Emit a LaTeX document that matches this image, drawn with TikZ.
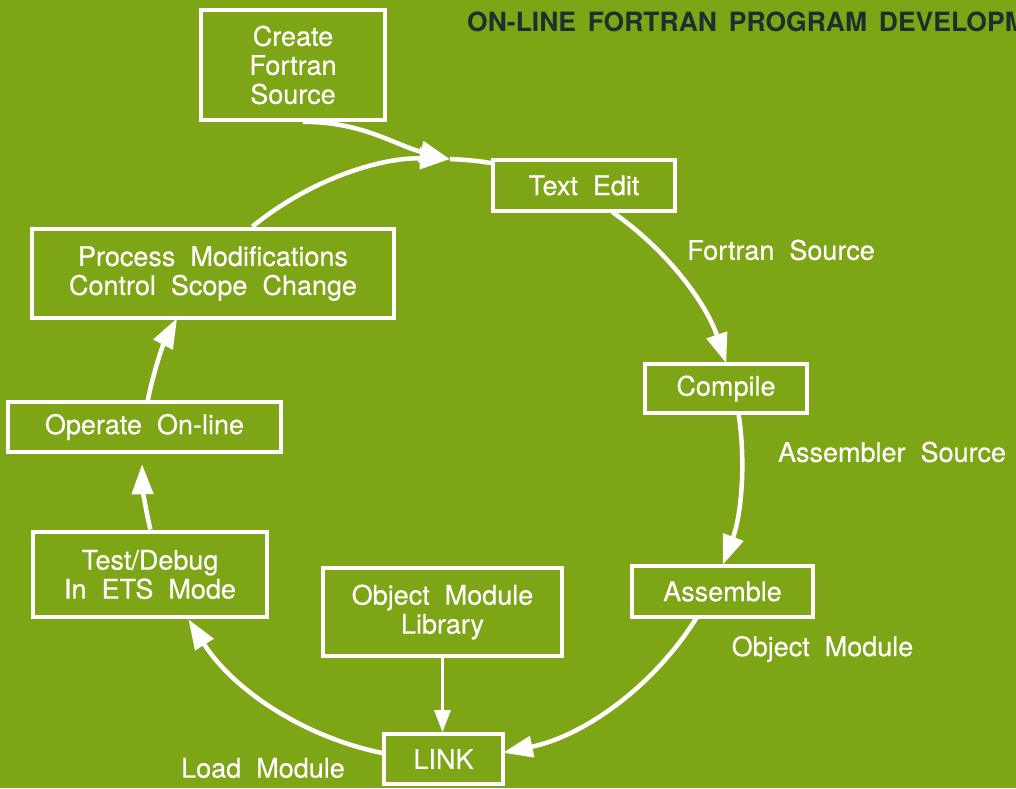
\documentclass[tikz,border=0pt]{standalone}
\usepackage{fontspec}
\setmainfont[WordSpace=2.0,FakeBold=0.4]{TeX Gyre Heros}
\newfontfamily\titlefont[WordSpace=1.6]{TeX Gyre Heros}
\usetikzlibrary{arrows.meta,calc}
\definecolor{bg}{RGB}{126,165,22}
\definecolor{ttl}{RGB}{30,48,46}
\begin{document}
\begin{tikzpicture}[x=1pt,y=1pt,
  box/.style={draw=white, line width=3.6pt, text=white, align=center,
    inner sep=0pt, font=\fontsize{27}{29}\selectfont},
  lbl/.style={text=white, inner sep=0pt, font=\fontsize{27}{29}\selectfont},
  flow/.style={draw=white, line width=4.5pt},
  arr/.style={flow, -{Triangle[length=30pt,width=21pt]}},
  thinarr/.style={draw=white, line width=3pt, -{Triangle[length=22pt,width=16pt]}}
]
\fill[bg] (0,0) rectangle (1016,788);
\useasboundingbox (0,0) rectangle (1016,788);

\node[anchor=base west, text=ttl, inner sep=0pt,
  font=\titlefont\bfseries\fontsize{26.5}{29}\selectfont] (title) at (467,756)
  {ON-LINE FORTRAN PROGRAM DEVELOPMENT};

% boxes
\node[box, minimum width=184pt, minimum height=110pt] (create) at (293,723) {Create\\Fortran\\Source};
\node[box, minimum width=182pt, minimum height=51pt] (te) at (584,602.5) {Text Edit};
\node[box, minimum width=162pt, minimum height=49pt] (comp) at (726,399.5) {Compile};
\node[box, minimum width=181pt, minimum height=51pt] (asm) at (722.5,196.5) {Assemble};
\node[box, minimum width=119pt, minimum height=50pt] (link) at (443.5,29) {LINK};
\node[box, minimum width=239pt, minimum height=88pt] (oml) at (442.5,176) {Object Module\\Library};
\node[box, minimum width=234pt, minimum height=85pt] (test) at (150,213.5) {Test/Debug\\In ETS Mode};
\node[box, minimum width=273pt, minimum height=50pt] (op) at (144.5,361) {Operate On-line};
\node[box, minimum width=362pt, minimum height=89pt] (proc) at (213,514.5) {Process Modifications\\Control Scope Change};

% labels
\node[lbl] (lfs) at (781,538) {Fortran Source};
\node[lbl] (las) at (892,336) {Assembler Source};
\node[lbl] (lom) at (822.5,139) {Object Module};
\node[lbl] (llm) at (263,20) {Load Module};

% circle of flow
\coordinate (O) at (442,329);
\def\R{300}
\coordinate (a1) at ($(O)+(55.4:\R)$);
\coordinate (a2) at ($(O)+(8.8:\R)$);
\coordinate (a3) at ($(O)+(-31.8:\R)$);
\coordinate (a4) at ($(O)+(-101.1:\R)$);
\coordinate (a5) at ($(O)+(193.6:\R)$);
\coordinate (a6) at ($(O)+(169.1:\R)$);
\coordinate (a7) at ($(O)+(129.2:\R)$);
\coordinate (tip) at ($(O)+(88.5:\R)$);

\draw[arr] (a1) arc[start angle=55.4, end angle=18.6, radius=\R];
\draw[arr] (a2) arc[start angle=8.8, end angle=-20.7, radius=\R];
\draw[arr] (a3) arc[start angle=-31.8, end angle=-78.3, radius=\R];
\draw[arr] (a4) arc[start angle=-101.1, end angle=-147.7, radius=\R];
\draw[arr] (a5) arc[start angle=193.6, end angle=181.0, radius=\R];
\draw[arr] (a6) arc[start angle=169.1, end angle=152.0, radius=\R];
\draw[flow] (tip) arc[start angle=88.5, end angle=80.2, radius=\R];
\draw[arr] (a7) arc[start angle=129.2, end angle=88.5, radius=\R];

% create source joins
\draw[arr] ($(create.south)+(10,0)$) .. controls +(60,0) and +(-55,14) .. (tip);

% library to link
\draw[thinarr] (oml.south) -- (oml.south |- link.north);
\end{tikzpicture}
\end{document}
